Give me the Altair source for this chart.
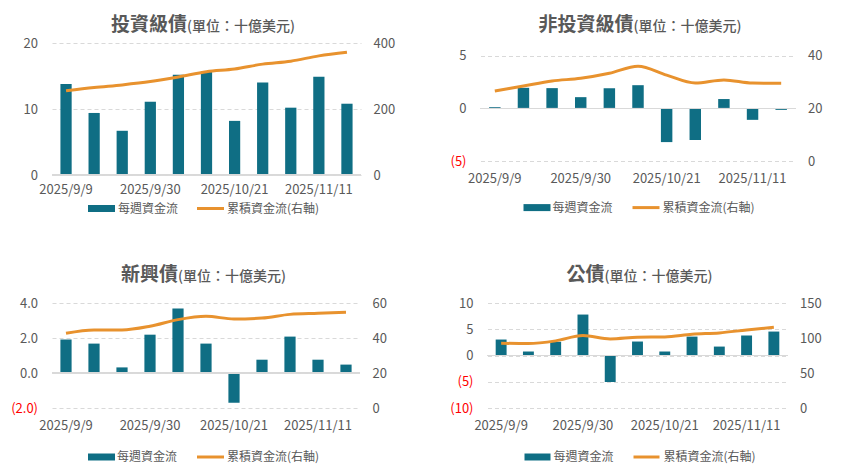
import altair as alt
import pandas as pd

dates = ["2025/9/9", "2025/9/16", "2025/9/23", "2025/9/30", "2025/10/7", "2025/10/14",
         "2025/10/21", "2025/10/28", "2025/11/4", "2025/11/11", "2025/11/18"]
x_labels = ["2025/9/9", "2025/9/30", "2025/10/21", "2025/11/11"]

ig_weekly = [13.8, 9.4, 6.7, 11.1, 15.2, 15.7, 8.2, 14.0, 10.2, 14.9, 10.8]
ig_cum = [255, 265, 273, 283, 297, 313, 321, 336, 345, 361, 372]

hy_weekly = [0.13, 1.97, 1.94, 1.08, 1.94, 2.22, -3.2, -3.0, 0.9, -1.08, -0.13]
hy_cum = [26.7, 28.6, 30.5, 31.5, 33.4, 36.1, 32.7, 29.7, 30.9, 29.7, 29.6]

em_weekly = [1.92, 1.68, 0.32, 2.19, 3.68, 1.68, -1.70, 0.76, 2.08, 0.76, 0.48]
em_cum = [42.7, 44.6, 44.6, 46.7, 50.5, 52.4, 50.9, 51.4, 53.5, 54.1, 54.7]

gov_weekly = [3.04, 0.76, 2.6, 7.8, -5.06, 2.66, 0.76, 3.6, 1.7, 3.8, 4.56]
gov_cum = [92.5, 92.1, 95.9, 103.5, 98.7, 101.1, 101.6, 105.4, 107.3, 111.5, 115.3]

SUB = "(單位：十億美元)"
LEG_BAR = "每週資金流"
LEG_LINE = "累積資金流(右軸)"

TEAL = "#0F6E84"
ORANGE = "#E8922E"
GREY = "#595959"
GRID = "#D9D9D9"
FONT = "Noto Sans CJK TC"
LBL = 13


def label_expr(fmt):
    return ("datum.value < 0 ? '(' + format(-datum.value, '%s') + ')' : "
            "format(datum.value, '%s')" % (fmt, fmt))


def text_mark(txt, x, y, size, align, weight="bold", baseline="alphabetic"):
    return alt.Chart(pd.DataFrame({"a": [0]})).mark_text(
        font=FONT, fontSize=size, fontWeight=weight,
        color=GREY, align=align, baseline=baseline
    ).encode(x=alt.value(x), y=alt.value(y), text=alt.value(txt))


def rect_mark(x1, x2, y1, y2, color):
    return alt.Chart(pd.DataFrame({"a": [0]})).mark_rect(color=color).encode(
        x=alt.value(x1), x2=alt.value(x2), y=alt.value(y1), y2=alt.value(y2))


def panel(main, weekly, cum, ldom, lvals, lfmt, rdom, rvals, w, h,
          tx, ty, leg, xpad):
    df = pd.DataFrame({"date": dates, "weekly": weekly, "cum": cum})
    base = alt.Chart(df)
    xenc = alt.X("date:N", sort=dates,
                 scale=alt.Scale(paddingInner=0.6, paddingOuter=0.3),
                 axis=alt.Axis(values=x_labels, labelAngle=0, ticks=False,
                               domain=False, title=None, labelPadding=xpad,
                               labelFontSize=LBL, labelColor=GREY, labelFont=FONT,
                               labelOverlap=False))
    bar = base.mark_bar(color=TEAL).encode(
        x=xenc,
        y=alt.Y("weekly:Q", scale=alt.Scale(domain=ldom, nice=False),
                axis=alt.Axis(values=lvals, tickCount=len(lvals) + 2,
                              grid=True, gridDash=[4, 3],
                              gridColor=GRID, domain=False, ticks=False,
                              title=None, labelPadding=14.5, labelFontSize=LBL,
                              labelFont=FONT, labelOverlap=False,
                              labelExpr=label_expr(lfmt),
                              labelColor={"condition": {"test": "datum.value < 0",
                                                        "value": "#FF0000"},
                                          "value": GREY})))
    rule = base.mark_rule(color=GRID, strokeWidth=1).encode(y=alt.datum(0))
    bx1, bx2, tx1, lx1, lx2, tx2, ly = leg
    left = alt.layer(
        bar, rule,
        text_mark(main, tx, ty, 19, "right"),
        text_mark(SUB, tx, ty, 14, "left", weight=500),
        rect_mark(bx1, bx2, ly - 3.5, ly + 3.5, TEAL),
        text_mark(LEG_BAR, tx1, ly, 12, "left", weight="normal", baseline="middle"),
        rect_mark(lx1, lx2, ly - 1.5, ly + 1.5, ORANGE),
        text_mark(LEG_LINE, tx2, ly, 12, "left", weight="normal", baseline="middle"),
    )
    line = base.mark_line(color=ORANGE, strokeWidth=3, interpolate="monotone").encode(
        x=xenc,
        y=alt.Y("cum:Q", scale=alt.Scale(domain=rdom, nice=False),
                axis=alt.Axis(orient="right", values=rvals,
                              tickCount=len(rvals) + 2, grid=False,
                              domain=False, ticks=False, title=None,
                              labelPadding=12, labelFontSize=LBL, labelFont=FONT,
                              labelColor=GREY, labelOverlap=False)))
    return alt.layer(left, line).resolve_scale(y="independent").properties(
        width=w, height=h)


# top-right panel: plot area starts 13px lower than the top-left one;
# the extra top strip is represented by extending both domains upward
p1 = panel("投資級債", ig_weekly, ig_cum, [0, 20], [0, 10, 20], "d",
           [0, 400], [0, 200, 400], 309, 132, 135, -12.3,
           (36, 63, 66, 145, 172, 175, 165.5), 8)
p2 = panel("非投資級債", hy_weekly, hy_cum, [-5, 6.238], [-5, 0, 5], "d",
           [0, 44.952], [0, 20, 40], 315, 118, 153, -12.3,
           (43, 70, 72, 152, 179, 182, 164.6), 11.5)
p3 = panel("新興債", em_weekly, em_cum, [-2, 4], [-2, 0, 2, 4], ".1f",
           [0, 60], [0, 20, 40, 60], 308, 105, 126, -22.5,
           (36, 63, 65, 145, 172, 175, 154), 11.5)
p4 = panel("公債", gov_weekly, gov_cum, [-10, 10], [-10, -5, 0, 5, 10], "d",
           [0, 150], [0, 50, 100, 150], 300, 105, 117, -22.5,
           (37, 63, 66, 146, 172, 176, 154), 11.5)

row1 = alt.hconcat(p1, p2, spacing=54.5)
row2 = alt.hconcat(p3, p4, spacing=62.5)
chart = alt.vconcat(row1, row2, spacing=50).properties(
    padding={"left": 2, "top": 7, "right": 5, "bottom": 5},
    background="white"
).configure_view(stroke=None)

chart.save("out.html", embed_options={"renderer": "svg", "actions": False})
